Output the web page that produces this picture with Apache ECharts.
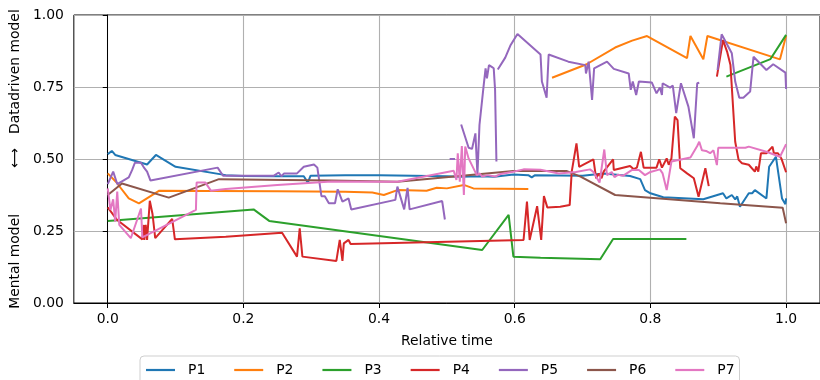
<!DOCTYPE html>
<html>
<head>
<meta charset="utf-8">
<script src="https://cdn.jsdelivr.net/npm/echarts@6/dist/echarts.min.js"></script>
<style>html,body{margin:0;padding:0;background:#fff;}#c{width:820px;height:380px;}</style>
</head>
<body>
<div id="c"></div>
<script>
// Data: [relative time, value]; null marks a break in a line
const seriesNames = ['P1','P2','P3','P4','P5','P6','P7'];
const xTicks = [0, 0.2, 0.4, 0.6, 0.8, 1.0];
const yTicks = [0, 0.25, 0.5, 0.75, 1.0];

const P1 = [[0,0.517],[0.006,0.528],[0.011,0.514],[0.058,0.481],[0.071,0.514],[0.1,0.473],[0.174,0.444],[0.2,0.441],[0.25,0.44],[0.289,0.44],[0.295,0.418],[0.299,0.442],[0.35,0.444],[0.4,0.444],[0.45,0.442],[0.5,0.44],[0.52,0.438],[0.55,0.44],[0.57,0.438],[0.598,0.446],[0.62,0.444],[0.625,0.436],[0.63,0.444],[0.7,0.442],[0.731,0.45],[0.77,0.441],[0.785,0.43],[0.792,0.392],[0.8,0.381],[0.819,0.367],[0.878,0.36],[0.907,0.381],[0.912,0.363],[0.92,0.375],[0.925,0.36],[0.928,0.37],[0.932,0.334],[0.945,0.381],[0.95,0.381],[0.954,0.392],[0.971,0.363],[0.975,0.473],[0.985,0.508],[0.994,0.363],[0.999,0.343],[1.0,0.363]];

const P2 = [[0,0.45],[0.012,0.421],[0.031,0.363],[0.046,0.346],[0.076,0.39],[0.15,0.389],[0.25,0.388],[0.35,0.386],[0.39,0.384],[0.407,0.375],[0.427,0.392],[0.47,0.39],[0.485,0.4],[0.5,0.398],[0.525,0.41],[0.539,0.398],[0.62,0.396],
  null,
  [0.655,0.782],[0.706,0.829],[0.748,0.887],[0.773,0.911],[0.795,0.927],[0.854,0.85],[0.859,0.927],[0.878,0.846],[0.884,0.927],[0.991,0.846],[1.0,0.928]];

const P3 = [[0,0.285],[0.215,0.325],[0.238,0.285],[0.552,0.184],[0.591,0.306],[0.598,0.161],[0.638,0.157],[0.726,0.152],[0.745,0.222],[0.853,0.222],
  null,
  [0.912,0.786],[0.977,0.847],[1.0,0.931]];

const P4 = [[0,0.332],[0.014,0.288],[0.051,0.221],[0.053,0.271],[0.054,0.219],[0.056,0.271],[0.058,0.219],[0.062,0.355],[0.066,0.309],[0.07,0.225],[0.095,0.292],[0.099,0.221],[0.174,0.23],[0.257,0.244],[0.279,0.161],[0.283,0.259],[0.287,0.161],[0.337,0.146],[0.342,0.219],[0.346,0.146],[0.348,0.207],[0.355,0.219],[0.358,0.205],[0.613,0.219],[0.618,0.352],[0.622,0.219],[0.633,0.336],[0.639,0.219],[0.643,0.371],[0.648,0.332],[0.667,0.334],[0.681,0.34],[0.684,0.456],[0.691,0.554],[0.695,0.473],[0.716,0.499],[0.72,0.433],[0.724,0.45],[0.728,0.433],[0.731,0.456],[0.745,0.499],[0.746,0.462],[0.77,0.476],[0.775,0.465],[0.78,0.47],[0.786,0.525],[0.79,0.47],[0.809,0.47],[0.813,0.499],[0.817,0.47],[0.824,0.502],[0.827,0.48],[0.831,0.502],[0.836,0.647],[0.84,0.635],[0.844,0.468],[0.854,0.45],[0.864,0.433],[0.871,0.369],[0.881,0.468],[0.886,0.406],
  null,
  [0.898,0.786],[0.907,0.913],[0.913,0.873],[0.918,0.826],[0.925,0.56],[0.93,0.497],[0.935,0.485],[0.945,0.48],[0.954,0.456],[0.956,0.474],[0.959,0.456],[0.963,0.52],[0.971,0.52],[0.98,0.543],[0.982,0.52],[0.988,0.52],[0.993,0.502],[1.0,0.454]];

const P5 = [[0,0.413],[0.008,0.456],[0.014,0.413],[0.031,0.436],[0.036,0.462],[0.04,0.487],[0.049,0.487],[0.054,0.468],[0.058,0.456],[0.063,0.425],[0.162,0.47],[0.17,0.442],[0.245,0.442],[0.252,0.453],[0.256,0.44],[0.26,0.45],[0.279,0.45],[0.289,0.473],[0.304,0.481],[0.309,0.47],[0.315,0.371],[0.32,0.371],[0.326,0.346],[0.335,0.346],[0.339,0.395],[0.346,0.352],[0.355,0.363],[0.359,0.325],[0.424,0.358],[0.427,0.404],[0.437,0.325],[0.442,0.4],[0.445,0.325],[0.493,0.354],[0.497,0.29],
  null,
  [0.504,0.5],[0.512,0.5],
  null,
  [0.521,0.62],[0.532,0.539],[0.537,0.535],[0.542,0.589],[0.545,0.445],[0.548,0.618],[0.554,0.751],[0.557,0.815],[0.559,0.78],[0.562,0.826],[0.566,0.82],[0.569,0.815],[0.571,0.74],[0.573,0.491],
  null,
  [0.575,0.811],[0.586,0.852],[0.594,0.896],[0.604,0.934],[0.638,0.863],[0.64,0.769],[0.647,0.713],[0.65,0.863],[0.679,0.838],[0.704,0.826],[0.705,0.797],[0.709,0.838],[0.714,0.705],[0.717,0.815],[0.736,0.838],[0.746,0.813],[0.768,0.797],[0.771,0.74],[0.774,0.769],[0.779,0.722],[0.783,0.769],[0.802,0.766],[0.809,0.728],[0.814,0.748],[0.817,0.722],[0.818,0.763],[0.829,0.748],[0.833,0.755],[0.838,0.659],[0.845,0.763],[0.856,0.682],[0.864,0.572],[0.869,0.763],[0.872,0.765],
  null,
  [0.899,0.809],[0.905,0.933],[0.92,0.867],[0.925,0.769],[0.931,0.713],[0.937,0.713],[0.947,0.734],[0.952,0.855],[0.971,0.809],[0.981,0.829],[0.999,0.8],[1.0,0.743]];

const P6 = [[0,0.375],[0.021,0.415],[0.09,0.366],[0.164,0.43],[0.33,0.425],[0.427,0.421],[0.598,0.458],[0.677,0.458],[0.697,0.439],[0.748,0.375],[0.903,0.346],[0.995,0.331],[1.0,0.277]];

const P7 = [[0,0.398],[0.004,0.323],[0.008,0.36],[0.011,0.282],[0.014,0.387],[0.017,0.271],[0.034,0.225],[0.049,0.328],[0.051,0.228],[0.13,0.323],[0.131,0.418],[0.144,0.418],[0.152,0.39],[0.174,0.396],[0.25,0.41],[0.33,0.422],[0.427,0.421],[0.51,0.459],[0.514,0.427],[0.516,0.52],[0.519,0.421],[0.522,0.545],[0.525,0.375],[0.527,0.543],[0.532,0.502],[0.544,0.444],[0.548,0.45],[0.552,0.439],[0.56,0.444],[0.571,0.439],[0.579,0.448],[0.598,0.456],[0.613,0.464],[0.638,0.463],[0.665,0.45],[0.667,0.444],[0.69,0.455],[0.711,0.464],[0.716,0.455],[0.725,0.418],[0.732,0.533],[0.736,0.444],[0.743,0.455],[0.747,0.437],[0.752,0.445],[0.76,0.442],[0.773,0.462],[0.783,0.462],[0.792,0.444],[0.8,0.455],[0.814,0.464],[0.818,0.45],[0.824,0.392],[0.831,0.491],[0.859,0.505],[0.869,0.545],[0.872,0.56],[0.876,0.53],[0.882,0.528],[0.888,0.52],[0.893,0.53],[0.898,0.479],[0.9,0.539],[0.94,0.539],[0.945,0.543],[0.971,0.525],[0.991,0.508],[1.0,0.551]];

const seriesData = [P1, P2, P3, P4, P5, P6, P7];
const colors = ['#1f77b4','#ff7f0e','#2ca02c','#d62728','#9467bd','#8c564b','#e377c2'];

function withGaps(arr) {
  const out = [];
  for (let i = 0; i < arr.length; i++) {
    if (arr[i] === null) { out.push([arr[i-1][0], '-']); }
    else out.push(arr[i]);
  }
  return out;
}

const FONT = 'DejaVu Sans';
const FS = 13.9;
const yName = 'Mental model\u2003\u2003\u2003 ⟷\u2003Datadriven model';
const chart = echarts.init(document.getElementById('c'), null, {renderer: 'canvas'});
chart.setOption({
  animation: false,
  backgroundColor: '#fff',
  color: colors,
  textStyle: {fontFamily: FONT},
  grid: {left: 72, right: -1, top: 15, bottom: 77, show: true, borderColor: '#000', borderWidth: 1, backgroundColor: 'transparent'},
  xAxis: {
    type: 'value', min: -0.05, max: 1.05,
    name: 'Relative time', nameLocation: 'middle', nameGap: 31,
    nameTextStyle: {fontFamily: FONT, fontSize: FS, color: '#000'},
    axisLine: {show: true, lineStyle: {color: '#000', width: 1}},
    axisTick: {show: true, length: 5, lineStyle: {color: '#000', width: 1}, customValues: xTicks},
    axisLabel: {show: true, margin: 9, fontFamily: FONT, fontSize: FS, color: '#000', customValues: xTicks, formatter: v => v.toFixed(1)},
    splitLine: {show: true, lineStyle: {color: '#b0b0b0', width: 1.1}}
  },
  yAxis: {
    type: 'value', min: 0, max: 1, interval: 0.25,
    name: yName, nameLocation: 'middle', nameGap: 46, nameRotate: 90,
    nameTextStyle: {fontFamily: FONT, fontSize: FS, color: '#000'},
    axisLine: {show: true, lineStyle: {color: '#000', width: 1}},
    axisTick: {show: true, length: 5, lineStyle: {color: '#000', width: 1}},
    axisLabel: {show: true, margin: 10, fontFamily: FONT, fontSize: FS, color: '#000', formatter: v => v.toFixed(2)},
    splitLine: {show: true, lineStyle: {color: '#b0b0b0', width: 1.1}}
  },
  legend: {
    show: true, left: 140, top: 356, orient: 'horizontal',
    data: seriesNames,
    icon: 'rect', itemWidth: 29, itemHeight: 2.2, itemGap: 29,
    padding: [7, 5, 8, 6],
    borderColor: '#cfcfcf', borderWidth: 1, borderRadius: 4,
    backgroundColor: 'rgba(255,255,255,0.8)',
    textStyle: {fontFamily: FONT, fontSize: FS, color: '#000', padding: [0, 0, 0, 8]}
  },
  series: seriesNames.map((n, i) => ({
    name: n, type: 'line', data: withGaps(seriesData[i]),
    showSymbol: false, symbol: 'none', connectNulls: false,
    lineStyle: {width: 2, color: colors[i]}, itemStyle: {color: colors[i]},
    emphasis: {disabled: true}, z: 2 + i
  }))
});
</script>
</body>
</html>
